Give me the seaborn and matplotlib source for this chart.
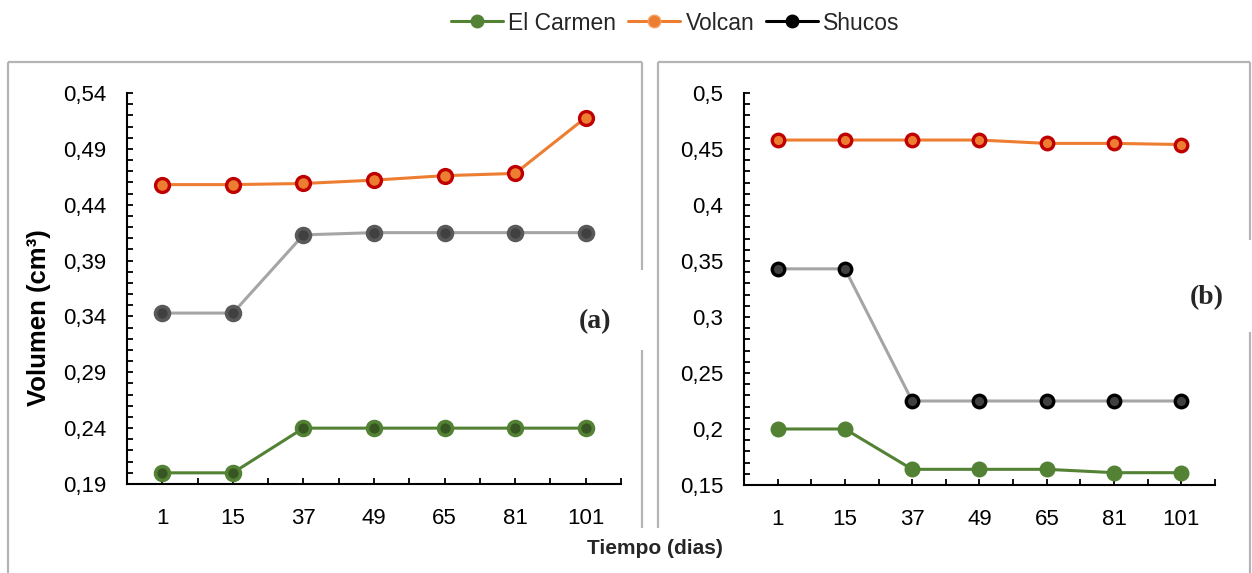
import matplotlib
matplotlib.use("Agg")
import matplotlib.pyplot as plt
from matplotlib.lines import Line2D
from matplotlib.ticker import FixedLocator, FuncFormatter
import seaborn as sns

# Days of measurement (categorical x axis)
dias = ["1", "15", "37", "49", "65", "81", "101"]

# Panel (a): volume (cm3) per site
carmen_a = [0.200, 0.200, 0.240, 0.240, 0.240, 0.240, 0.240]
volcan_a = [0.458, 0.458, 0.459, 0.462, 0.466, 0.468, 0.518]
shucos_a = [0.343, 0.343, 0.413, 0.415, 0.415, 0.415, 0.415]

# Panel (b): volume (cm3) per site
carmen_b = [0.200, 0.200, 0.164, 0.164, 0.164, 0.161, 0.161]
volcan_b = [0.458, 0.458, 0.458, 0.458, 0.455, 0.455, 0.454]
shucos_b = [0.343, 0.343, 0.225, 0.225, 0.225, 0.225, 0.225]

site_names = ["El Carmen", "Volcan", "Shucos"]

sns.set_theme(style="white")
plt.rcParams["font.family"] = ["Liberation Sans", "DejaVu Sans"]

W, H = 1252, 573
fig = plt.figure(figsize=(W / 100, H / 100), dpi=100)


def px_axes(x0, x1, y_top, y_bot):
    return fig.add_axes([x0 / W, 1 - y_bot / H, (x1 - x0) / W, (y_bot - y_top) / H])


def fig_line(xs, ys, **kw):
    fig.add_artist(Line2D([x / W for x in xs], [1 - y / H for y in ys],
                          transform=fig.transFigure, **kw))


GREEN, GREEN_D = "#548235", "#375623"
ORANGE, RED = "#ED7D31", "#C00000"
GREY_L, GREY_D = "#A5A5A5", "#404040"

ax_a = px_axes(127, 621, 93, 484)
ax_b = px_axes(744, 1215, 93, 485)

panels = [
    (ax_a, [carmen_a, volcan_a, shucos_a], 0.19, 0.54,
     [dict(color=GREEN, mfc=GREEN_D, mec=GREEN, ms=10, mew=2.6),
      dict(color=ORANGE, mfc=ORANGE, mec=RED, ms=10, mew=2.4),
      dict(color=GREY_L, mfc=GREY_D, mec="#595959", ms=10, mew=2.6)]),
    (ax_b, [carmen_b, volcan_b, shucos_b], 0.15, 0.50,
     [dict(color=GREEN, mfc=GREEN, mec=GREEN, ms=10, mew=1.5),
      dict(color=ORANGE, mfc=ORANGE, mec=RED, ms=9, mew=2.4),
      dict(color=GREY_L, mfc=GREY_D, mec="black", ms=9, mew=2.4)]),
]

comma_fmt = FuncFormatter(lambda v, _: f"{round(v, 2):g}".replace(".", ","))

for ax, series, ymin, ymax, styles in panels:
    for vals, st in zip(series, styles):
        sns.lineplot(x=dias, y=vals, ax=ax, errorbar=None, sort=False,
                     color=st["color"], linewidth=2.2, marker="o",
                     markersize=st["ms"], markerfacecolor=st["mfc"],
                     markeredgecolor=st["mec"], markeredgewidth=st["mew"])
    ax.set_xlim(-0.5, 6.5)
    ax.set_ylim(ymin, ymax)
    ax.set_xticks(range(len(dias)))
    ax.set_xticklabels(dias)
    ax.set_xticks([i - 0.5 for i in range(len(dias) + 1)], minor=True)
    ax.yaxis.set_major_locator(FixedLocator([round(ymin + 0.05 * k, 2) for k in range(8)]))
    ax.yaxis.set_minor_locator(FixedLocator([round(ymin + 0.01 * k, 2) for k in range(36)]))
    ax.yaxis.set_major_formatter(comma_fmt)
    ax.set_xlabel("")
    ax.set_ylabel("")
    for s in ("top", "right"):
        ax.spines[s].set_visible(False)
    for s in ("left", "bottom"):
        ax.spines[s].set_color("black")
        ax.spines[s].set_linewidth(1.5)
    ax.tick_params(axis="both", which="both", direction="in", length=4.5,
                   width=1.3, color="black", labelsize=16, labelcolor="black")
    ax.tick_params(axis="y", which="both", pad=15, left=True)
    ax.tick_params(axis="x", which="both", pad=17, bottom=True)
    ax.set_facecolor("none")

# Chart frames around each panel
frame = dict(color="#B4B4B4", lw=1.6, solid_capstyle="butt")
fig_line([8, 642], [62, 62], **frame)
fig_line([8, 8], [62, 573], **frame)
fig_line([642, 642], [62, 270], **frame)
fig_line([642, 642], [350, 528], **frame)
fig_line([658, 1250], [62, 62], **frame)
fig_line([658, 658], [62, 528], **frame)
fig_line([1250, 1250], [62, 240], **frame)
fig_line([1250, 1250], [332, 573], **frame)

# Panel tags
serif = ["Liberation Serif", "DejaVu Serif"]
fig.text(595 / W, 1 - 322 / H, "(a)", family=serif, fontsize=20,
         fontweight="bold", ha="center", va="center")
fig.text(1207 / W, 1 - 298 / H, "(b)", family=serif, fontsize=20,
         fontweight="bold", ha="center", va="center")

# Shared axis titles
fig.text(39 / W, 1 - 318 / H, "Volumen (cm³)", rotation=90, fontsize=18.5,
         fontweight="bold", ha="center", va="center", color="black")
fig.text(655 / W, 1 - 549 / H, "Tiempo (dias)", fontsize=15,
         fontweight="bold", ha="center", va="center", color="#262626")

# Shared legend
handles = [
    Line2D([], [], color=GREEN, lw=2.2, marker="o", ms=9, mfc=GREEN, mec=GREEN),
    Line2D([], [], color=ORANGE, lw=2.2, marker="o", ms=9, mfc=ORANGE, mec="#F4A064"),
    Line2D([], [], color="black", lw=2.2, marker="o", ms=9, mfc="black", mec="black"),
]
fig.legend(handles, site_names, loc="center", ncol=3, frameon=False,
           bbox_to_anchor=(675.5 / W, 1 - 23 / H), fontsize=16.5,
           handlelength=2.27, handletextpad=0.22, columnspacing=0.52,
           labelcolor="#262626")

fig.savefig("out.png", dpi=100, facecolor="white")
